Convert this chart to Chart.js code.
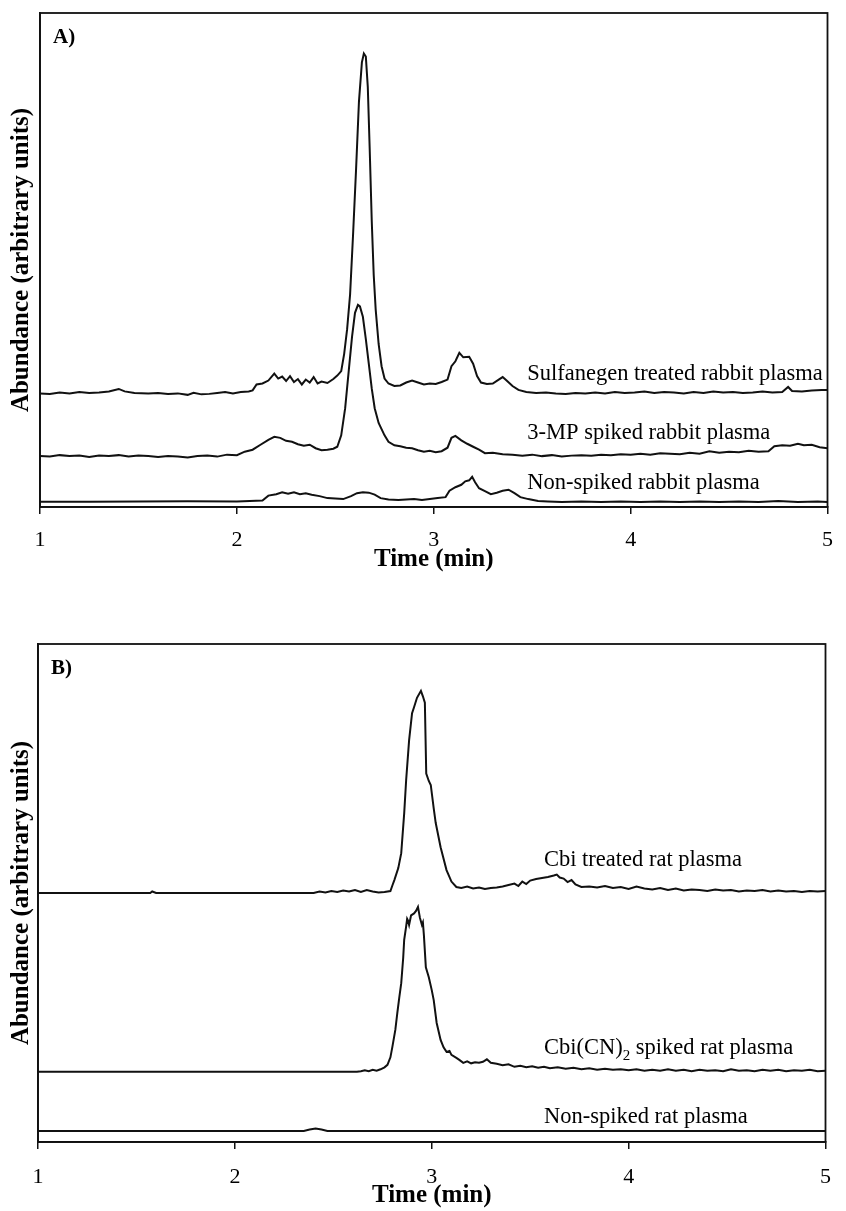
<!DOCTYPE html>
<html>
<head>
<meta charset="utf-8">
<script src="https://cdn.jsdelivr.net/npm/chart.js@4"></script>
<style>
  html, body { margin: 0; padding: 0; background: #fff; overflow: hidden; }
  .panel { position: absolute; left: 0; width: 846px; }
  #panelA { top: 0; height: 575px; }
  #panelB { top: 631px; height: 580px; }
</style>
</head>
<body>
<div class="panel" id="panelA"><canvas id="chartA"></canvas></div>
<div class="panel" id="panelB"><canvas id="chartB"></canvas></div>
<script>
// x axis ticks (min)
const timeTicks = [1, 2, 3, 4, 5];

// --- panel A : rabbit plasma ---
const sulfTime = [1.00,1.05,1.10,1.15,1.20,1.25,1.30,1.35,1.40,1.43,1.48,1.55,1.60,1.65,1.70,1.75,1.78,1.82,1.86,1.90,1.94,1.98,2.02,2.06,2.08,2.10,2.13,2.16,2.19,2.21,2.23,2.25,2.27,2.29,2.31,2.33,2.35,2.37,2.39,2.41,2.43,2.46,2.49,2.51,2.53,2.545,2.56,2.575,2.59,2.605,2.62,2.635,2.645,2.655,2.665,2.675,2.685,2.695,2.705,2.72,2.735,2.75,2.77,2.80,2.83,2.86,2.89,2.92,2.95,2.98,3.01,3.04,3.07,3.09,3.11,3.13,3.15,3.18,3.20,3.22,3.24,3.27,3.30,3.33,3.35,3.37,3.40,3.43,3.47,3.52,3.57,3.62,3.67,3.72,3.77,3.82,3.87,3.92,3.97,4.02,4.07,4.12,4.17,4.22,4.27,4.32,4.37,4.42,4.47,4.52,4.57,4.62,4.67,4.72,4.77,4.80,4.82,4.87,4.92,4.97,5.00];
const sulfAbund = [23.0,22.9,23.2,23.0,23.3,23.1,23.2,23.4,23.9,23.4,23.1,23.0,23.1,22.9,23.0,22.7,23.1,22.8,22.9,23.1,23.3,23.0,23.3,23.4,23.6,24.8,25.0,25.6,27.0,26.0,26.4,25.5,26.5,25.3,25.9,24.8,25.8,25.2,26.3,25.0,25.4,25.1,25.9,26.6,27.5,31,36,43,55,68,82,90,91.8,91.2,85,72,58,47,40,33,28.5,26,25,24.5,24.6,25.2,25.6,25.2,24.8,25.0,24.9,25.3,25.8,28.5,29.5,31.2,30.3,30.4,29.0,26.5,25.2,24.9,25.0,25.8,26.3,25.6,24.5,23.7,23.3,23.1,23.2,23.0,22.9,23.1,23.0,23.2,23.0,23.3,23.1,23.2,23.4,23.1,23.3,23.2,23.0,23.3,23.1,23.4,23.2,23.3,23.1,23.2,23.4,23.2,23.3,24.3,23.5,23.4,23.6,23.7,23.7];

const mpTime = [1.00,1.05,1.10,1.15,1.20,1.25,1.30,1.35,1.40,1.45,1.50,1.55,1.60,1.65,1.70,1.75,1.80,1.85,1.90,1.95,2.00,2.04,2.08,2.12,2.16,2.19,2.22,2.25,2.28,2.31,2.34,2.37,2.40,2.43,2.46,2.49,2.51,2.53,2.55,2.57,2.585,2.60,2.615,2.625,2.64,2.655,2.67,2.685,2.70,2.72,2.75,2.77,2.80,2.83,2.86,2.89,2.92,2.95,2.98,3.01,3.04,3.07,3.09,3.11,3.14,3.17,3.20,3.23,3.26,3.30,3.35,3.40,3.45,3.50,3.55,3.60,3.65,3.70,3.75,3.80,3.85,3.90,3.95,4.00,4.05,4.10,4.15,4.20,4.25,4.30,4.35,4.40,4.45,4.50,4.55,4.60,4.65,4.70,4.73,4.77,4.81,4.85,4.88,4.92,4.96,5.00];
const mpAbund = [10.3,10.2,10.5,10.3,10.4,10.1,10.4,10.3,10.5,10.2,10.4,10.3,10.1,10.3,10.2,10.0,10.3,10.4,10.2,10.6,10.5,11.2,11.6,12.6,13.6,14.2,14.0,13.4,13.2,12.7,12.4,12.6,11.9,11.5,11.6,11.8,12.2,14.5,20,28.3,34.5,39.3,40.9,40.6,38.5,34,29,24,20,17,14.5,13.2,12.5,12.3,12.0,11.9,11.5,11.2,11.4,11.1,11.3,12.0,14.0,14.4,13.5,12.8,12.2,11.6,10.9,11.0,10.7,10.6,10.4,10.6,10.3,10.5,10.2,10.4,10.5,10.4,10.6,10.5,10.7,10.6,10.8,10.6,10.9,10.8,10.7,11.0,10.8,11.3,11.0,11.2,11.1,11.4,11.2,11.3,12.3,12.5,12.4,12.8,12.5,12.6,12.1,11.9];

const rabbitTime = [1.00,1.25,1.50,1.75,2.00,2.13,2.16,2.20,2.23,2.26,2.29,2.32,2.35,2.38,2.42,2.46,2.50,2.54,2.58,2.61,2.64,2.67,2.70,2.73,2.77,2.82,2.86,2.90,2.94,2.98,3.02,3.06,3.08,3.11,3.14,3.16,3.18,3.195,3.21,3.23,3.26,3.29,3.32,3.35,3.38,3.41,3.44,3.48,3.53,3.58,3.65,3.75,3.85,3.95,4.05,4.15,4.25,4.35,4.45,4.55,4.65,4.75,4.85,4.95,5.00];
const rabbitAbund = [1.05,1.05,1.1,1.15,1.1,1.3,2.3,2.6,3.0,2.7,3.0,2.6,2.8,2.5,2.2,1.8,1.7,1.6,2.2,2.8,3.0,2.9,2.5,1.8,1.5,1.4,1.5,1.6,1.4,1.6,1.8,2.0,3.3,4.0,4.5,5.2,5.4,6.1,5.0,3.8,3.2,2.6,2.9,3.3,3.5,2.8,2.0,1.6,1.2,1.1,1.0,1.1,1.0,1.1,1.0,1.1,1.0,1.1,1.0,1.1,1.0,1.2,1.0,1.1,1.0];

// --- panel B : rat plasma ---
const cbiTime = [1.00,1.20,1.40,1.57,1.58,1.60,1.80,2.00,2.20,2.40,2.43,2.46,2.49,2.52,2.55,2.58,2.61,2.64,2.67,2.70,2.73,2.76,2.79,2.80,2.81,2.83,2.845,2.86,2.87,2.885,2.90,2.91,2.925,2.945,2.955,2.965,2.972,2.985,2.995,3.01,3.02,3.045,3.075,3.10,3.125,3.15,3.18,3.21,3.24,3.27,3.30,3.33,3.36,3.39,3.42,3.44,3.46,3.48,3.50,3.53,3.56,3.59,3.62,3.635,3.65,3.67,3.69,3.71,3.73,3.76,3.80,3.84,3.88,3.92,3.96,4.00,4.04,4.08,4.12,4.16,4.20,4.24,4.28,4.32,4.36,4.40,4.44,4.48,4.52,4.56,4.60,4.64,4.68,4.72,4.76,4.80,4.84,4.88,4.92,4.96,5.00];
const cbiAbund = [50.0,50.0,50.0,50.0,50.3,50.0,50.0,50.0,50.0,50.0,50.3,50.1,50.4,50.2,50.5,50.3,50.6,50.2,50.6,50.3,50.1,50.2,50.4,51.5,52.6,55,58,66,72.7,80.7,86.1,87.3,89.2,90.6,89.5,88.2,74,72.5,71.7,67,64.1,59.2,54.6,52.3,51.2,51.0,51.3,50.9,51.1,50.8,51.0,51.1,51.3,51.6,51.9,51.4,52.3,51.8,52.5,52.8,53.0,53.2,53.5,53.7,53.1,52.9,52.2,52.6,51.7,51.2,51.3,51.1,51.4,51.0,51.2,50.8,51.3,50.9,50.7,51.0,50.6,50.9,50.5,50.7,50.6,50.4,50.7,50.5,50.6,50.3,50.5,50.4,50.6,50.3,50.5,50.3,50.4,50.2,50.4,50.3,50.4];

const cnTime = [1.00,2.00,2.62,2.64,2.66,2.68,2.70,2.72,2.74,2.76,2.775,2.79,2.80,2.815,2.825,2.835,2.845,2.855,2.86,2.87,2.875,2.88,2.885,2.895,2.91,2.92,2.93,2.94,2.95,2.955,2.96,2.97,2.985,3.00,3.01,3.025,3.045,3.06,3.075,3.09,3.10,3.125,3.14,3.16,3.18,3.20,3.22,3.24,3.26,3.28,3.30,3.33,3.36,3.39,3.42,3.45,3.48,3.51,3.54,3.57,3.60,3.64,3.68,3.72,3.76,3.80,3.84,3.88,3.92,3.96,4.00,4.04,4.08,4.12,4.16,4.20,4.24,4.28,4.32,4.36,4.40,4.44,4.48,4.52,4.56,4.60,4.64,4.68,4.72,4.76,4.80,4.84,4.88,4.92,4.96,5.00];
const cnAbund = [14.1,14.1,14.1,14.2,14.4,14.2,14.5,14.3,14.6,15.0,15.5,17,19.1,22.5,25.9,29,31.9,37,40.6,43.3,44.8,44.4,43.6,45.5,45.9,46.4,47.2,45.0,43.6,44.1,41.6,35.1,33.1,30.5,28.5,23.9,20.5,19.0,18.1,18.3,17.5,16.9,16.5,15.9,16.2,15.8,16.0,15.9,16.1,16.6,15.9,15.7,15.4,15.6,15.1,15.3,15.0,15.2,14.9,15.1,14.8,15.0,14.7,14.9,14.6,14.8,14.5,14.7,14.5,14.6,14.4,14.6,14.3,14.5,14.3,14.6,14.3,14.5,14.2,14.5,14.3,14.4,14.2,14.6,14.3,14.4,14.2,14.5,14.3,14.5,14.2,14.4,14.3,14.5,14.2,14.3];

const ratTime = [1.00,2.35,2.38,2.41,2.44,2.47,5.00];
const ratAbund = [2.2,2.2,2.5,2.7,2.5,2.2,2.2];

// trace labels, placed in data coordinates (time, abundance)
const labelsA = [
  { text: 'Sulfanegen treated rabbit plasma', t: 3.475, u: 26.9 },
  { text: '3-MP spiked rabbit plasma', t: 3.475, u: 15.0 },
  { text: 'Non-spiked rabbit plasma', t: 3.475, u: 4.9 }
];
const labelsB = [
  { text: 'Cbi treated rat plasma', t: 3.57, u: 56.6 },
  { text: 'Cbi(CN)', sub: '2', rest: ' spiked rat plasma', t: 3.57, u: 18.9 },
  { text: 'Non-spiked rat plasma', t: 3.57, u: 5.0 }
];

const SERIF = '"Liberation Serif", "Times New Roman", serif';

function toPoints(ts, vs) {
  return ts.map((t, i) => ({ x: t, y: vs[i] }));
}

// frame around the plot area + panel letter + trace labels
const decor = {
  id: 'decor',
  afterDraw(chart, args, opts) {
    const { ctx, chartArea: a, scales } = chart;
    ctx.save();
    ctx.strokeStyle = '#111';
    ctx.lineWidth = 1.8;
    ctx.strokeRect(a.left, a.top, a.right - a.left, a.bottom - a.top);

    ctx.fillStyle = '#000';
    ctx.textBaseline = 'middle';
    ctx.textAlign = 'left';
    ctx.font = 'bold 21px ' + SERIF;
    ctx.fillText(opts.letter, a.left + 13, a.top + 25);

    opts.labels.forEach(l => {
      let x = scales.x.getPixelForValue(l.t);
      const y = scales.y.getPixelForValue(l.u);
      ctx.font = '22.5px ' + SERIF;
      ctx.fillText(l.text, x, y);
      if (l.sub) {
        x += ctx.measureText(l.text).width;
        ctx.font = '15px ' + SERIF;
        ctx.fillText(l.sub, x, y + 8);
        x += ctx.measureText(l.sub).width;
        ctx.font = '22.5px ' + SERIF;
        ctx.fillText(l.rest, x, y);
      }
    });
    ctx.restore();
  }
};

function makeChart(id, series, labels, letter, leftW, axisH, tickPad) {
  return new Chart(document.getElementById(id), {
    type: 'line',
    data: {
      datasets: series.map(s => ({
        data: toPoints(s[0], s[1]),
        borderColor: '#111',
        borderWidth: 2,
        pointRadius: 0,
        tension: 0,
        fill: false
      }))
    },
    options: {
      responsive: true,
      maintainAspectRatio: false,
      animation: false,
      layout: { padding: { top: 13, right: 7, left: 0, bottom: 0 } },
      plugins: {
        legend: { display: false },
        tooltip: { enabled: false },
        decor: { letter: letter, labels: labels }
      },
      scales: {
        x: {
          type: 'linear',
          min: timeTicks[0],
          max: timeTicks[timeTicks.length - 1],
          afterBuildTicks: s => { s.ticks = timeTicks.map(v => ({ value: v })); },
          ticks: { color: '#000', font: { family: SERIF, size: 22 }, padding: tickPad },
          grid: { display: true, drawOnChartArea: false, drawTicks: true, tickLength: 7, color: '#111', lineWidth: 1.5 },
          border: { display: true, color: '#111', width: 1.8 },
          title: {
            display: true, text: 'Time (min)', color: '#000',
            font: { family: SERIF, size: 25, weight: 'bold' },
            padding: { top: 0, bottom: 0 }
          },
          afterFit: s => { s.height = axisH; }
        },
        y: {
          min: 0,
          max: 100,
          ticks: { display: false },
          grid: { display: false },
          border: { display: true, color: '#111', width: 1.8 },
          title: {
            display: true, text: 'Abundance (arbitrary units)', color: '#000',
            font: { family: SERIF, size: 25, weight: 'bold' },
            padding: { top: 7, bottom: 0 }
          },
          afterFit: s => { s.width = leftW; }
        }
      }
    },
    plugins: [decor]
  });
}

makeChart('chartA', [[sulfTime, sulfAbund], [mpTime, mpAbund], [rabbitTime, rabbitAbund]], labelsA, 'A)', 40, 68, 13);
makeChart('chartB', [[cbiTime, cbiAbund], [cnTime, cnAbund], [ratTime, ratAbund]], labelsB, 'B)', 38, 69, 15);
</script>
</body>
</html>
